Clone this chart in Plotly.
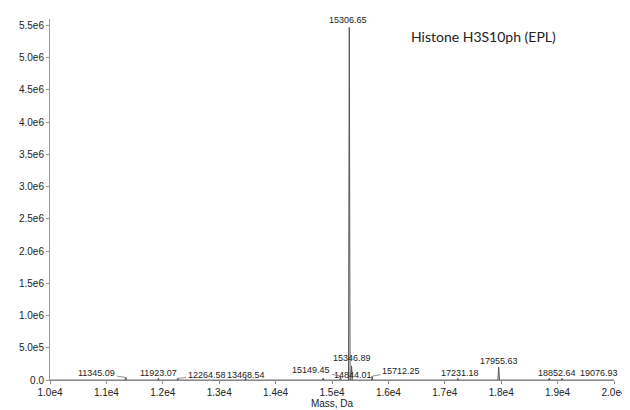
import plotly.graph_objects as go

# ---- data ----
peak_mass = [11345.09, 11923.07, 12264.58, 13468.54, 14844.01, 15149.45,
             15306.65, 15346.89, 15712.25, 17231.18, 17955.63, 18852.64, 19076.93]
peak_intensity = [4.0e4, 3.0e4, 2.5e4, 3.0e4, 3.0e4, 6.0e4,
                  5.47e6, 2.2e5, 6.0e4, 2.5e4, 2.0e5, 3.0e4, 2.5e4]

x_tickvals = [10000, 11000, 12000, 13000, 14000, 15000, 16000, 17000, 18000, 19000, 20000]
x_ticktext = ["1.0e4", "1.1e4", "1.2e4", "1.3e4", "1.4e4", "1.5e4",
              "1.6e4", "1.7e4", "1.8e4", "1.9e4", "2.0e4"]
y_tickvals = [0, 5e5, 1e6, 1.5e6, 2e6, 2.5e6, 3e6, 3.5e6, 4e6, 4.5e6, 5e6, 5.5e6]
y_ticktext = ["0.0", "5.0e5", "1.0e6", "1.5e6", "2.0e6", "2.5e6", "3.0e6",
              "3.5e6", "4.0e6", "4.5e6", "5.0e6", "5.5e6"]

title_text = "Histone H3S10ph (EPL)"
x_title = "Mass, Da"

# ---- label placement (pixel offsets; leader = connecting line) ----
label_style = [  # (dx, dy, leader)
    (-29, -4, True), (0, -5, False), (29, -3, True), (0, -3, False),
    (30, -3, False), (-29, -6, True), (-1, -7, False), (0, -8, False),
    (29, -5, True), (2, -5, False), (0, -6, False), (8, -5, False), (37, -5, False),
]

# build the spectrum (narrow triangles) from the peak lists
xs, ys = [], []
for m, h in zip(peak_mass, peak_intensity):
    w = 14 if h > 1e5 else 9
    xs += [m - w, m, m + w, None]
    ys += [0, h, 0, None]

fig = go.Figure()
fig.add_trace(go.Scatter(x=[10000, 20000], y=[0, 0], mode="lines",
                         line=dict(color="#777", width=1.2), hoverinfo="skip"))
fig.add_trace(go.Scatter(x=xs, y=ys, mode="lines",
                         line=dict(color="#555", width=1), hoverinfo="skip"))

font_lbl = dict(family="Liberation Sans, Arial, sans-serif", size=9, color="#222")
for m, h, (dx, dy, lead) in zip(peak_mass, peak_intensity, label_style):
    txt = f"{m:.2f}"
    if lead:
        fig.add_annotation(x=m, y=h, xref="x", yref="y", text=txt, showarrow=True,
                           arrowhead=0, arrowwidth=0.8, arrowcolor="#777",
                           ax=dx, ay=dy, standoff=0, font=font_lbl)
    else:
        fig.add_annotation(x=m, y=h, xref="x", yref="y", text=txt, showarrow=False,
                           xanchor="center", yanchor="middle",
                           xshift=dx, yshift=-dy, font=font_lbl)

fig.add_annotation(x=(483 - 36) / 582, y=(383 - 29) / 372, xref="paper", yref="paper",
                   text=title_text, showarrow=False, xanchor="center", yanchor="middle",
                   font=dict(family="Lato, Open Sans, sans-serif", size=14, color="#222"))

fig.update_layout(
    width=630, height=410,
    margin=dict(l=36, r=12, t=11, b=27),
    paper_bgcolor="white", plot_bgcolor="white",
    showlegend=False,
    font=dict(family="Liberation Sans, Arial, sans-serif", size=10, color="#222"),
)
fig.update_xaxes(range=[10000, 20000], tickvals=x_tickvals, ticktext=x_ticktext,
                 showgrid=False, zeroline=False, showline=True, linecolor="#888",
                 linewidth=1, ticks="outside", ticklen=3, tickcolor="#888",
                 ticklabeloverflow="allow",
                 title=dict(text=x_title, standoff=2, font=dict(size=10)),
                 tickfont=dict(size=10))
fig.update_yaxes(range=[0, 5.6e6], tickvals=y_tickvals, ticktext=y_ticktext,
                 showgrid=False, zeroline=False, showline=True, linecolor="#999",
                 linewidth=1, ticks="outside", ticklen=3, tickcolor="#999",
                 tickfont=dict(size=10))

fig.write_html("out.html")
